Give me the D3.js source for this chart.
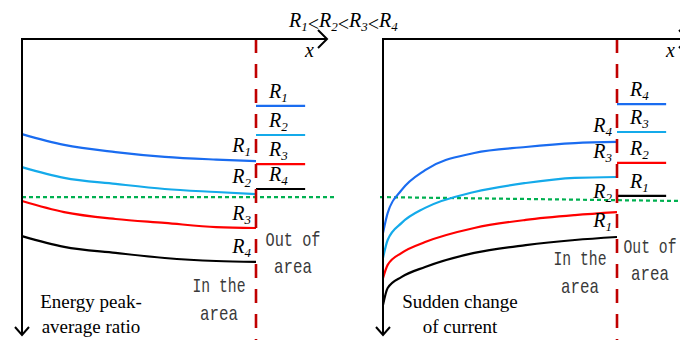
<!DOCTYPE html>
<html>
<head>
<meta charset="utf-8">
<title>Energy peak-average ratio / sudden change of current</title>
<script src="https://cdnjs.cloudflare.com/ajax/libs/d3/7.8.5/d3.min.js"></script>
<style>
  body { margin: 0; background: #fff; }
</style>
</head>
<body>
<div id="chart"></div>
<script>
// ---------------- data ----------------
// position inside the area, 0 = relay point, 100 = area boundary
var peakX = [0, 18, 40, 61, 83, 100];
var peakR1 = [31.7, 35.3, 37.7, 39.3, 40.2, 40.7];
var peakR2 = [42.7, 46.3, 48.3, 50.0, 51.0, 51.7];
var peakR3 = [54.0, 57.7, 60.0, 61.3, 62.7, 63.0];
var peakR4 = [65.7, 69.3, 71.3, 73.0, 74.0, 74.3];
var peakOut = [22.3, 32.0, 41.7, 50.0];          // R1..R4 outside the area
var peakThreshold = [52.7, 52.7];

var curX = [0, 2, 8, 18, 39, 61, 82, 100];
var curR4 = [64.7, 58.0, 50.3, 43.7, 38.0, 36.0, 34.7, 34.3];
var curR3 = [73.0, 67.0, 61.3, 56.3, 51.0, 48.0, 46.3, 46.0];
var curR2 = [79.7, 75.3, 71.3, 67.7, 63.0, 60.3, 58.7, 57.7];
var curR1 = [88.7, 83.0, 79.3, 76.0, 71.3, 68.7, 67.0, 66.0];
var curOut = [21.7, 31.0, 41.3, 52.3];           // R4..R1 outside the area
var curThreshold = [52.7, 54.0];

var peakNames = ["1", "2", "3", "4"];
var curNames = ["4", "3", "2", "1"];

// ---------------- layout ----------------
var W = 680, H = 340;
var colors = ["#1a6cf0", "#14aaea", "#ff0000", "#000000"];
var SERIF = "'Liberation Serif', 'Times New Roman', 'DejaVu Serif', serif";
var MONO = "'Liberation Mono', 'DejaVu Sans Mono', monospace";

var svg = d3.select("#chart").append("svg")
    .attr("width", W)
    .attr("height", H);

var y = d3.scaleLinear().domain([0, 100]).range([39, 339]);

function italic(sel) {
    return sel.style("font-family", SERIF).style("font-style", "italic").attr("fill", "#000");
}

// title  R1<R2<R3<R4
var title = italic(svg.append("text"))
    .attr("x", 289).attr("y", 27).style("font-size", "20px");
["1", "2", "3", "4"].forEach(function (n, i) {
    title.append("tspan").text("R").attr("dy", i === 0 ? 0 : -4);
    title.append("tspan").text(n).style("font-size", "13px").attr("dy", 4);
    if (i < 3) title.append("tspan").text("<").style("font-style", "normal");
});

function rLabel(g, n, x, yy, anchor) {
    var t = italic(g.append("text"))
        .attr("x", x).attr("y", yy)
        .attr("text-anchor", anchor)
        .style("font-size", "20px");
    t.append("tspan").text("R");
    t.append("tspan").text(n).style("font-size", "13px").attr("dy", 4);
}

function drawPanel(cfg) {
    var g = svg.append("g");
    var x = d3.scaleLinear().domain([0, 100]).range([cfg.x0, cfg.x0 + 234]);
    var bx = x(100);

    // threshold (green dotted)
    g.append("line")
        .attr("x1", cfg.thrFrom).attr("x2", cfg.thrTo)
        .attr("y1", y(cfg.thr[0])).attr("y2", y(cfg.thr[1]))
        .attr("stroke", "#00b050").attr("stroke-width", 2.2)
        .attr("stroke-dasharray", "4,3");

    // curves inside the area
    var line = d3.line()
        .x(function (d) { return x(d[0]); })
        .y(function (d) { return y(d[1]); })
        .curve(d3.curveMonotoneX);

    cfg.series.forEach(function (s, i) {
        var pts = cfg.xs.map(function (v, j) { return [v, s[j]]; });
        g.append("path")
            .attr("d", line(pts))
            .attr("fill", "none")
            .attr("stroke", colors[i])
            .attr("stroke-width", 2.2);
        rLabel(g, cfg.names[i], bx - 5, y(s[s.length - 1]) - cfg.labelDy[i], "end");
    });

    // levels outside the area
    cfg.out.forEach(function (v, i) {
        g.append("line")
            .attr("x1", bx).attr("x2", x(121))
            .attr("y1", y(v)).attr("y2", y(v))
            .attr("stroke", colors[i]).attr("stroke-width", 2.2);
        rLabel(g, cfg.names[i], bx + 13, y(v) - 8, "start");
    });

    // boundary (red dashed)
    g.append("line")
        .attr("x1", bx).attr("x2", bx)
        .attr("y1", y(0)).attr("y2", H)
        .attr("stroke", "#c00000").attr("stroke-width", 2.6)
        .attr("stroke-dasharray", "14,11");

    // axes with open arrows
    var ox = x(0), oy = y(0);
    var xEnd = ox + 305, yEnd = 335;
    g.append("path")
        .attr("d", "M" + xEnd + "," + oy + "H" + ox + "V" + yEnd)
        .attr("fill", "none").attr("stroke", "#000").attr("stroke-width", 2);
    g.append("path")
        .attr("d", "M" + (xEnd - 9) + "," + (oy - 9) + "L" + xEnd + "," + oy + "L" + (xEnd - 9) + "," + (oy + 9))
        .attr("fill", "none").attr("stroke", "#000").attr("stroke-width", 2);
    g.append("path")
        .attr("d", "M" + (ox - 7) + "," + (yEnd - 8) + "L" + ox + "," + yEnd + "L" + (ox + 7) + "," + (yEnd - 8))
        .attr("fill", "none").attr("stroke", "#000").attr("stroke-width", 2);
    italic(g.append("text"))
        .attr("x", xEnd - 22).attr("y", 57)
        .style("font-size", "20px").text("x");

    // zone texts: narrow mono face, squeezed horizontally
    function zone(txt, cx, yy, len) {
        var sx = len / (txt.length * 12);   // mono advance = 0.6em at 20px
        g.append("text")
            .attr("transform", "translate(" + cx + "," + yy + ") scale(" + sx + ",1)")
            .attr("text-anchor", "middle")
            .attr("fill", "#3a3a3a")
            .style("font-family", MONO)
            .style("font-size", "20px").text(txt);
    }
    zone("In the", bx - 37, cfg.inY, 53);
    zone("area", bx - 37, cfg.inY + 28, 38);
    zone("Out of", bx + cfg.outDx, cfg.outY, cfg.outLen);
    zone("area", bx + cfg.outDx, cfg.outY + 27, 38);

    // axis title
    cfg.title.forEach(function (t, i) {
        g.append("text")
            .attr("x", cfg.titleX).attr("y", 308 + i * 25)
            .attr("text-anchor", "middle")
            .attr("fill", "#000")
            .style("font-family", SERIF)
            .style("font-size", "19px").text(t);
    });
}

drawPanel({
    x0: 22, xs: peakX,
    series: [peakR1, peakR2, peakR3, peakR4],
    out: peakOut, names: peakNames,
    labelDy: [9, 11, 8, 9],
    thr: peakThreshold, thrFrom: 22, thrTo: 336,
    inY: 292, outY: 246, outDx: 37, outLen: 55,
    title: ["Energy peak-", "average ratio"], titleX: 91
});

drawPanel({
    x0: 383, xs: curX,
    series: [curR4, curR3, curR2, curR1],
    out: curOut, names: curNames,
    labelDy: [10, 19, 14, 10],
    thr: curThreshold, thrFrom: 380, thrTo: 680,
    inY: 265, outY: 253, outDx: 33, outLen: 53,
    title: ["Sudden change", "of current"], titleX: 460
});
</script>
</body>
</html>
